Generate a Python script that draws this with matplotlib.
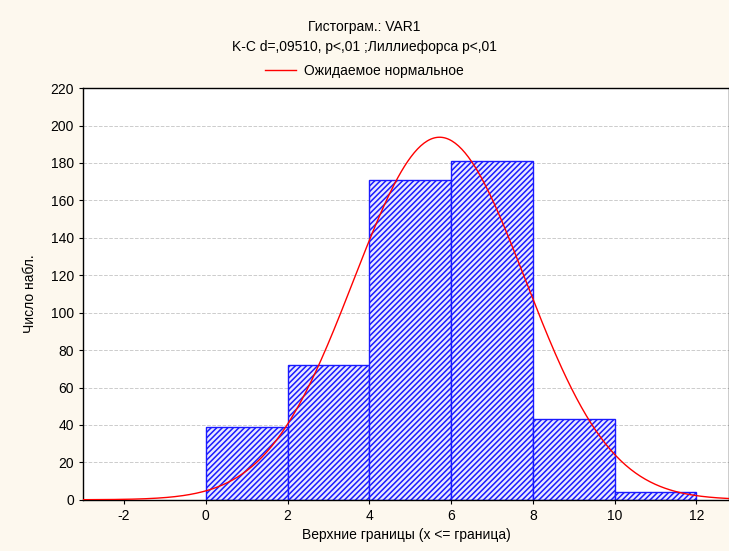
import numpy as np
import matplotlib.pyplot as plt

# histogram data (upper bounds of bins, counts)
bin_edges = [0, 2, 4, 6, 8, 10, 12]
counts = [39, 72, 171, 181, 43, 4]
x_ticks = [-2, 0, 2, 4, 6, 8, 10, 12]
y_ticks = [0, 20, 40, 60, 80, 100, 120, 140, 160, 180, 200, 220]

# fitted normal curve parameters
norm_mean = 5.72
norm_sd = 2.1

plt.rcParams['font.family'] = ['Liberation Sans', 'DejaVu Sans']
plt.rcParams['hatch.linewidth'] = 1.1
plt.rcParams['axes.unicode_minus'] = False

bg = '#fdf8ee'
fig = plt.figure(figsize=(7.29, 5.51), dpi=100, facecolor=bg)
ax = fig.add_axes([0.114, 0.093, 0.886, 0.747])

lefts = np.array(bin_edges[:-1])
widths = np.diff(bin_edges)
ax.bar(lefts, counts, width=widths, align='edge', facecolor='#e8e8ff',
       edgecolor='#1a1aff', hatch='//////', linewidth=1.0, zorder=2)

n_total = sum(counts)
bw = widths[0]
xs = np.linspace(-3, 13, 400)
ys = n_total * bw * np.exp(-0.5 * ((xs - norm_mean) / norm_sd) ** 2) / (norm_sd * np.sqrt(2 * np.pi))
line, = ax.plot(xs, ys, color='#ff0000', linewidth=1, zorder=3)

ax.set_xlim(-3, 12.8)
ax.set_ylim(0, 220)
ax.set_xticks(x_ticks)
ax.set_yticks(y_ticks)
ax.tick_params(labelsize=10, length=3, direction='out')
ax.yaxis.grid(True, linestyle='--', color='#cccccc', linewidth=0.7, zorder=0)
ax.set_axisbelow(True)
for s in ax.spines.values():
    s.set_color('black')
    s.set_linewidth(1)

ax.set_xlabel('Верхние границы (x <= граница)', fontsize=10)
ax.set_ylabel('Число набл.', fontsize=10, labelpad=10)

fig.text(0.5, 0.951, 'Гистограм.: VAR1', ha='center', va='center', fontsize=10)
fig.text(0.5, 0.915, 'K-C d=,09510, p<,01 ;Лиллиефорса p<,01', ha='center', va='center', fontsize=10)
fig.legend([line], ['Ожидаемое нормальное'], loc='center', bbox_to_anchor=(0.5, 0.871),
           frameon=False, fontsize=10, handlelength=2.2, handletextpad=0.6)

fig.savefig('out.png', dpi=100, facecolor=bg)
